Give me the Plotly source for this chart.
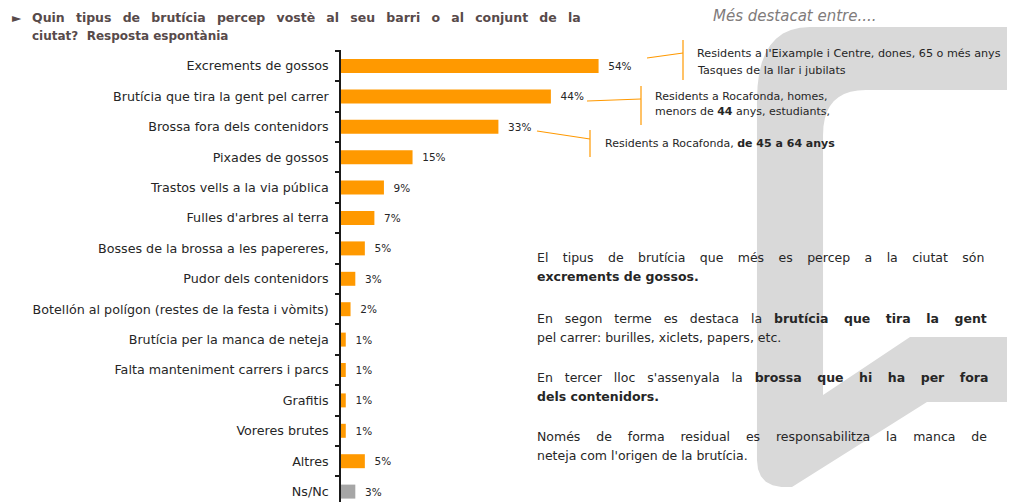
import plotly.graph_objects as go

# -- Data -----------------------------------------------------------------------

CATEGORIES = [
    "Excrements de gossos",
    "Brutícia que tira la gent pel carrer",
    "Brossa fora dels contenidors",
    "Pixades de gossos",
    "Trastos vells a la via pública",
    "Fulles d'arbres al terra",
    "Bosses de la brossa a les papereres,",
    "Pudor dels contenidors",
    "Botellón al polígon (restes de la festa i vòmits)",
    "Brutícia per la manca de neteja",
    "Falta manteniment carrers i parcs",
    "Grafitis",
    "Voreres brutes",
    "Altres",
    "Ns/Nc",
]
VALUES = [54, 44, 33, 15, 9, 7, 5, 3, 2, 1, 1, 1, 1, 5, 3]

# -- Style ----------------------------------------------------------------------

W, H = 1015, 502
OFFSET = 8          # the html page body has an 8px margin; shift content up/left
PX_PER_PCT = 4.77   # bar length scale in the reference
AXIS_X, AXIS_TOP = 341, 50
ROW_PX = 30.4

ORANGE = "#FF9900"
GREY_BAR = "#A6A6A6"
BG_SHAPE = "#D9D9D9"
TEXT_DARK = "#262626"
TITLE_COL = "#574A4A"
FONT = "DejaVu Sans"

NB = "\u00a0"    # no-break space
THIN = "\u2009"  # thin space


def px(x):
    return (x - OFFSET) / W


def py(y):
    return 1 - (y - OFFSET) / H


def justify(text, pad):
    """Widen word gaps with extra spaces to mimic justified text."""
    return (" " + pad).join(text.split(" "))


def quad(p0, c, p1, n=10):
    """Sample a quadratic bezier (pixel points) into a polyline."""
    out = []
    for i in range(1, n + 1):
        t = i / n
        x = (1 - t) ** 2 * p0[0] + 2 * (1 - t) * t * c[0] + t ** 2 * p1[0]
        y = (1 - t) ** 2 * p0[1] + 2 * (1 - t) * t * c[1] + t ** 2 * p1[1]
        out.append((x, y))
    return out


bar_colors = [GREY_BAR if c == "Ns/Nc" else ORANGE for c in CATEGORIES]

fig = go.Figure(
    go.Bar(
        x=VALUES,
        y=CATEGORIES,
        orientation="h",
        width=0.46,
        marker={"color": bar_colors, "line": {"width": 0}},
        text=[f"{NB}{NB}{v}%" for v in VALUES],
        textposition="outside",
        textfont={"family": FONT, "size": 10.5, "color": TEXT_DARK},
        cliponaxis=False,
        hoverinfo="skip",
    )
)

# -- Decorative grey background shape (outline in pixels -> paper coords) -------
outline = [(1030, 27), (810, 27)]
outline += quad((810, 27), (757, 27), (757, 100))
outline += [(757, 460)]
outline += quad((757, 460), (757, 490), (792, 487), n=6)
outline += [(927, 402), (1030, 402), (1030, 337), (910, 337), (823, 395), (823, 135)]
outline += quad((823, 135), (823, 90), (866, 90))
outline += [(1030, 90)]
path = "M " + " L ".join(f"{px(x):.4f},{py(y):.4f}" for x, y in outline) + " Z"
fig.add_shape(type="path", path=path, xref="paper", yref="paper",
              fillcolor=BG_SHAPE, line={"width": 0}, layer="below")

# -- Callout brackets and connectors --------------------------------------------
segments = [
    # (x0, y0, x1, y1) pixels
    (683, 40, 683, 80), (647, 58, 683, 53),
    (641, 86, 641, 125), (587, 101, 641, 99),
    (590, 130, 590, 157), (537, 131, 590, 139),
]
for x0, y0, x1, y1 in segments:
    fig.add_shape(type="line", xref="paper", yref="paper",
                  x0=px(x0), y0=py(y0), x1=px(x1), y1=py(y1),
                  line={"color": ORANGE, "width": 1.2})

# -- Texts ----------------------------------------------------------------------
texts = [
    # (x, y, text, size, color)
    (10, 18, "►", 12, TITLE_COL),
    (30, 18, "<b>" + justify("Quin tipus de brutícia percep vostè al seu barri o al conjunt de la", NB + THIN) + "</b>", 12.5, TITLE_COL),
    (30, 36, "<b>ciutat?  Resposta espontània</b>", 12, TITLE_COL),
    (711, 16, "<i>Més destacat entre....</i>", 15, "#7F7B7B"),
    (695, 53, "Residents a l'Eixample i Centre, dones, 65 o més anys", 11.2, TEXT_DARK),
    (695, 70, "Tasques de la llar i jubilats", 11.2, TEXT_DARK),
    (653, 96, "Residents a Rocafonda, homes,", 11, TEXT_DARK),
    (653, 111, "menors de <b>44</b> anys, estudiants,", 11, TEXT_DARK),
    (603, 143, "Residents a Rocafonda, <b>de 45 a 64 anys</b>", 11, TEXT_DARK),
    (535, 257, justify("El tipus de brutícia que més es percep a la ciutat són", NB * 2 + THIN), 12.5, TEXT_DARK),
    (535, 276, "<b>excrements de gossos.</b>", 12.5, TEXT_DARK),
    (535, 318, justify("En segon terme es destaca la", NB * 2) + " " + NB * 2 + "<b>" + justify("brutícia que tira la gent", NB * 2 + THIN) + "</b>", 12.5, TEXT_DARK),
    (535, 337, "pel carrer: burilles, xiclets, papers, etc.", 12.5, TEXT_DARK),
    (535, 377, justify("En tercer lloc s'assenyala la", NB * 2) + " " + NB * 2 + "<b>" + justify("brossa que hi ha per fora", NB * 2 + THIN) + "</b>", 12.5, TEXT_DARK),
    (535, 396, "<b>dels contenidors.</b>", 12.5, TEXT_DARK),
    (535, 436, justify("Només de forma residual es responsabilitza la manca de", NB * 3), 12.5, TEXT_DARK),
    (535, 455, "neteja com l'origen de la brutícia.", 12.5, TEXT_DARK),
]
for x, y, t, size, col in texts:
    fig.add_annotation(text=t, xref="paper", yref="paper", x=px(x), y=py(y),
                       xanchor="left", yanchor="middle", showarrow=False,
                       font={"family": FONT, "size": size, "color": col})

# axis extents derived from the reference geometry
x_max = (W + OFFSET - AXIS_X) / PX_PER_PCT
first_row = -(66 - AXIS_TOP) / ROW_PX
last_row = (H + OFFSET - 66) / ROW_PX

fig.update_layout(
    width=W,
    height=H,
    margin={"l": 0, "r": 0, "t": 0, "b": 0},
    paper_bgcolor="white",
    plot_bgcolor="rgba(0,0,0,0)",
    showlegend=False,
    font={"family": FONT, "size": 12.5, "color": TEXT_DARK},
    xaxis={
        "domain": [px(AXIS_X), 1],
        "range": [0, x_max],
        "visible": False,
        "fixedrange": True,
    },
    yaxis={
        "domain": [0, py(AXIS_TOP)],
        "type": "category",
        "range": [last_row, first_row],
        "showline": True,
        "linecolor": "#1a1a1a",
        "linewidth": 1.5,
        "ticks": "outside",
        "tickson": "boundaries",
        "ticklen": 4,
        "tickwidth": 1.5,
        "tickcolor": "#1a1a1a",
        "showgrid": False,
        "ticklabelstandoff": 8,
        "tickfont": {"family": FONT, "size": 12.7, "color": TEXT_DARK},
        "fixedrange": True,
    },
)

fig.write_html("out.html", config={"displayModeBar": False})
